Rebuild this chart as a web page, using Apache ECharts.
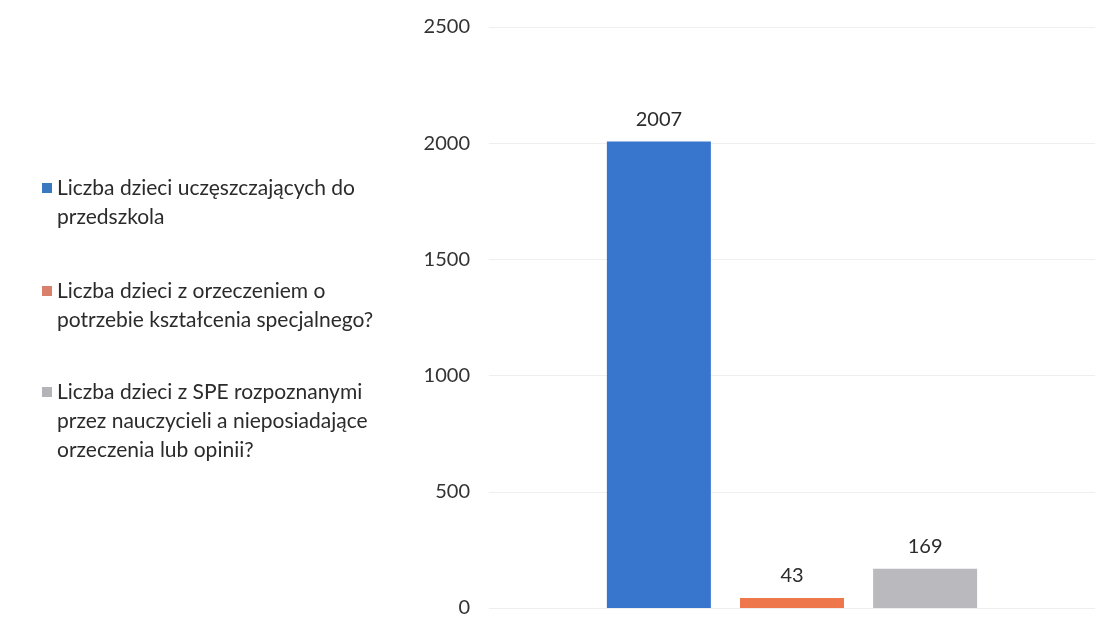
<!DOCTYPE html>
<html>
<head>
<meta charset="utf-8">
<script src="https://cdn.jsdelivr.net/npm/echarts@6/dist/echarts.min.js"></script>
<style>html,body{margin:0;padding:0;background:#fff}#c{width:1107px;height:636px}</style>
</head>
<body>
<div id="c"></div>
<script>
const categories = [''];
const seriesNames = [
  'Liczba dzieci uczęszczających do\nprzedszkola',
  'Liczba dzieci z orzeczeniem o\npotrzebie kształcenia specjalnego?',
  'Liczba dzieci z SPE rozpoznanymi\nprzez nauczycieli a nieposiadające\norzeczenia lub opinii?'
];
const seriesValues = [2007, 43, 169];
const seriesColors = ['#3876cd', '#ee784c', '#b9b9be'];
const legendIconColors = ['#3a78c0', '#d9806c', '#b4b4b8'];
const yTicks = { min: 0, max: 2500, interval: 500 };

const FONT = 'Lato';
const LH = 29;
const legendTops = [188, 291, 392];

const chart = echarts.init(document.getElementById('c'));
const legends = seriesNames.map((name, i) => {
  const lines = name.split('\n').length;
  const total = (2 * lines - 1) * LH;
  return {
    left: 42,
    top: legendTops[i] - total / 2,
    padding: 0,
    orient: 'vertical',
    itemWidth: 10,
    itemHeight: 10,
    itemGap: 0,
    icon: 'rect',
    selectedMode: false,
    data: [{ name: name, itemStyle: { color: legendIconColors[i] } }],
    formatter: (n) => '\n'.repeat(lines - 1) + n,
    textStyle: {
      fontFamily: FONT, fontSize: 21, color: '#2b2b2b',
      lineHeight: LH
    }
  };
});

chart.setOption({
  animation: false,
  backgroundColor: '#ffffff',
  legend: legends,
  grid: { left: 489, right: 12, top: 27, bottom: 28, containLabel: false },
  xAxis: {
    type: 'category',
    data: categories,
    axisLine: { show: false },
    axisTick: { show: false },
    axisLabel: { show: false }
  },
  yAxis: {
    type: 'value',
    min: yTicks.min, max: yTicks.max, interval: yTicks.interval,
    axisLine: { show: false },
    axisTick: { show: false },
    axisLabel: { fontFamily: FONT, fontSize: 20, color: '#333333', margin: 19, formatter: (v) => String(v) },
    splitLine: { lineStyle: { color: '#efefef', width: 1 } }
  },
  series: seriesNames.map((name, i) => ({
    type: 'bar',
    name: name,
    data: [seriesValues[i]],
    barWidth: 104,
    barGap: '28%',
    itemStyle: { color: seriesColors[i] },
    label: {
      show: true, position: 'top', distance: 12,
      fontFamily: FONT, fontSize: 20, color: '#2b2b2b'
    }
  }))
});
</script>
</body>
</html>
